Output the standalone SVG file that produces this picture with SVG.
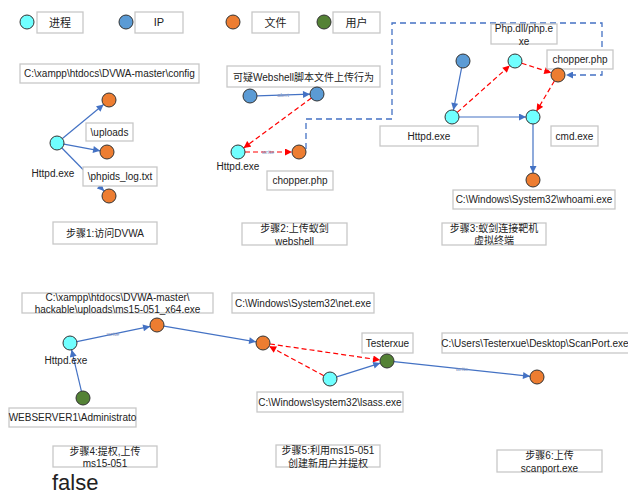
<svg xmlns="http://www.w3.org/2000/svg" width="628" height="494" viewBox="0 0 628 494">
<defs>
<style>
text{font-family:"Liberation Sans","Noto Sans CJK SC",sans-serif;font-size:10px;fill:#222;text-anchor:middle}
.box{fill:#fff;stroke:#c8c8c8;stroke-width:1.3}
.nd{stroke:#333;stroke-width:1}
.proc{fill:#70ffff}
.ip{fill:#5b9bd5}
.file{fill:#ed7d31}
.user{fill:#548235}
.b{stroke:#4472c4;stroke-width:1.2;fill:none}
.r{stroke:#ff0000;stroke-width:1.2;fill:none;stroke-dasharray:5 3}
.bd{stroke:#4472c4;stroke-width:1.3;fill:none;stroke-dasharray:6 4}
.el{font-size:6px;fill:#7a8fbf}
.lg{font-size:11px}
</style>
<marker id="ab" viewBox="0 0 10 10" refX="10" refY="5" markerWidth="8" markerHeight="7" markerUnits="userSpaceOnUse" orient="auto"><path d="M0,0L10,5L0,10z" fill="#4472c4"/></marker>
<marker id="ar" viewBox="0 0 10 10" refX="10" refY="5" markerWidth="8" markerHeight="7" markerUnits="userSpaceOnUse" orient="auto"><path d="M0,0L10,5L0,10z" fill="#ff0000"/></marker>
</defs>
<rect width="628" height="494" fill="#fff"/>

<g id="connectors">
<!-- step1 -->
<line class="b" x1="62.4" y1="138.5" x2="103.6" y2="104.5" marker-end="url(#ab)"/>
<line class="b" x1="63.9" y1="144.2" x2="100.1" y2="150.8" marker-end="url(#ab)"/>
<line class="b" x1="61.9" y1="148" x2="104.1" y2="191" marker-end="url(#ab)"/>
<!-- step2 -->
<line class="b" x1="257" y1="95.8" x2="310" y2="94.2" marker-end="url(#ab)"/>
<text class="el" x="283" y="97">alert</text>
<line class="r" x1="311.4" y1="98.1" x2="243.6" y2="147.9" marker-end="url(#ar)"/>
<line class="r" x1="245" y1="152" x2="292" y2="152" marker-end="url(#ar)"/>
<text class="el" x="268" y="154">write</text>
<path class="bd" d="M306,149V119H392V23H602V75H566" marker-end="url(#ab)"/>
<!-- step3 -->
<line class="b" x1="461.6" y1="67.9" x2="453.4" y2="110.1" marker-end="url(#ab)"/>
<line class="r" x1="457.2" y1="112.4" x2="509.8" y2="65.6" marker-end="url(#ar)"/>
<line class="r" x1="521.7" y1="63.2" x2="551.3" y2="72.8" marker-end="url(#ar)"/>
<line class="r" x1="554.4" y1="81" x2="536.6" y2="111" marker-end="url(#ar)"/>
<line class="b" x1="459" y1="117" x2="526" y2="117" marker-end="url(#ab)"/>
<line class="b" x1="533" y1="124" x2="533" y2="173" marker-end="url(#ab)"/>
<!-- step4 -->
<line class="b" x1="81.4" y1="391.2" x2="71.6" y2="349.8" marker-end="url(#ab)"/>
<line class="b" x1="76.9" y1="341.6" x2="150.1" y2="326.4" marker-end="url(#ab)"/>
<text class="el" x="113" y="335.5">write</text>
<line class="b" x1="163.9" y1="326.2" x2="256.1" y2="341.8" marker-end="url(#ab)"/>
<!-- step5 -->
<line class="r" x1="269.9" y1="344" x2="380.1" y2="360" marker-end="url(#ar)"/>
<line class="r" x1="323.8" y1="375.7" x2="269.2" y2="346.3" marker-end="url(#ar)"/>
<line class="b" x1="336.7" y1="376.9" x2="380.3" y2="363.1" marker-end="url(#ab)"/>
<line class="b" x1="394" y1="361.7" x2="530" y2="376.3" marker-end="url(#ab)"/>
<text class="el" x="462" y="370.5">write</text>
</g>

<g id="legend">
<circle class="nd proc" cx="27" cy="22" r="7"/>
<rect class="box" x="37" y="12" width="46" height="21"/>
<text class="lg" x="60" y="26.5">进程</text>
<circle class="nd ip" cx="126" cy="22" r="7"/>
<rect class="box" x="135" y="12" width="48" height="21"/>
<text class="lg" x="159" y="26">IP</text>
<circle class="nd file" cx="233" cy="22" r="7"/>
<rect class="box" x="252" y="12" width="47" height="21"/>
<text class="lg" x="275.5" y="26.5">文件</text>
<circle class="nd user" cx="324" cy="22" r="7"/>
<rect class="box" x="333" y="12" width="47" height="21"/>
<text class="lg" x="356.5" y="26.5">用户</text>
</g>

<!-- step 1 -->
<g id="s1-config"><rect class="box" x="20" y="64" width="179" height="19"/><text x="109.5" y="77">C:\xampp\htdocs\DVWA-master\config</text><circle class="nd file" cx="109" cy="100" r="7"/></g>
<g id="s1-uploads"><rect class="box" x="86" y="123" width="47" height="18"/><text x="109.5" y="135.5">\uploads</text><circle class="nd file" cx="107" cy="152" r="7"/></g>
<g id="s1-phpids"><rect class="box" x="83" y="167" width="74" height="19"/><text x="120" y="180">\phpids_log.txt</text><circle class="nd file" cx="109" cy="196" r="7"/></g>
<g id="s1-httpd"><circle class="nd proc" cx="57" cy="143" r="7"/><text x="53" y="176.5">Httpd.exe</text></g>
<g id="s1-title"><rect class="box" x="53" y="222" width="104" height="22"/><text x="105" y="237">步骤1:访问DVWA</text></g>

<!-- step 2 -->
<g id="s2-label"><rect class="box" x="227" y="66" width="153" height="21"/><text x="303.5" y="80.5">可疑Webshell脚本文件上传行为</text></g>
<g id="s2-ip1"><circle class="nd ip" cx="250" cy="96" r="7"/></g>
<g id="s2-ip2"><circle class="nd ip" cx="317" cy="94" r="7"/></g>
<g id="s2-httpd"><circle class="nd proc" cx="238" cy="152" r="7"/><text x="238" y="169.5">Httpd.exe</text></g>
<g id="s2-chopper"><circle class="nd file" cx="299" cy="152" r="7"/><rect class="box" x="267" y="171" width="66" height="19"/><text x="300" y="184">chopper.php</text></g>
<g id="s2-title"><rect class="box" x="242" y="223" width="105" height="22"/><text x="294.5" y="232">步骤2:上传蚁剑</text><text x="294.5" y="245">webshell</text></g>

<!-- step 3 -->
<g id="s3-ip"><circle class="nd ip" cx="463" cy="61" r="7"/></g>
<g id="s3-php"><rect class="box" x="491" y="24" width="66" height="20"/><text x="524" y="31.5">Php.dll/php.e</text><text x="524" y="44.5">xe</text><circle class="nd proc" cx="515" cy="61" r="7"/></g>
<g id="s3-chopper"><rect class="box" x="547" y="50" width="66" height="19"/><text x="580" y="63">chopper.php</text><circle class="nd file" cx="558" cy="75" r="7"/></g>
<g id="s3-httpd"><circle class="nd proc" cx="452" cy="117" r="7"/><rect class="box" x="380" y="126" width="98" height="20"/><text x="429" y="139.5">Httpd.exe</text></g>
<g id="s3-cmd"><circle class="nd proc" cx="533" cy="117" r="7"/><rect class="box" x="551" y="126" width="47" height="20"/><text x="574.5" y="139.5">cmd.exe</text></g>
<g id="s3-whoami"><circle class="nd file" cx="533" cy="180" r="7"/><rect class="box" x="453" y="190" width="162" height="19"/><text x="534" y="203">C:\Windows\System32\whoami.exe</text></g>
<g id="s3-title"><rect class="box" x="442" y="223" width="104" height="22"/><text x="494" y="232">步骤3:蚁剑连接靶机</text><text x="494" y="244">虚拟终端</text></g>

<!-- step 4 -->
<g id="s4-file"><rect class="box" x="22" y="293" width="191" height="20"/><text x="117.5" y="300.5">C:\xampp\htdocs\DVWA-master\</text><text x="117.5" y="312.5">hackable\uploads\ms15-051_x64.exe</text><circle class="nd file" cx="157" cy="325" r="7"/></g>
<g id="s4-httpd"><circle class="nd proc" cx="70" cy="343" r="7"/><text x="66" y="363.5">Httpd.exe</text></g>
<g id="s4-user"><circle class="nd user" cx="83" cy="398" r="7"/><rect class="box" x="9" y="408" width="127" height="19"/><text x="72.5" y="421">WEBSERVER1\Administrato</text></g>
<g id="s4-title"><rect class="box" x="53" y="446" width="104" height="21"/><text x="105" y="455">步骤4:提权,上传</text><text x="105" y="467">ms15-051</text></g>

<!-- step 5 -->
<g id="s5-net"><rect class="box" x="232" y="293" width="142" height="20"/><text x="303" y="306.5">C:\Windows\System32\net.exe</text><circle class="nd file" cx="263" cy="343" r="7"/></g>
<g id="s5-user"><rect class="box" x="362" y="333" width="51" height="20"/><text x="387.5" y="346.5">Testerxue</text><circle class="nd user" cx="387" cy="361" r="7"/></g>
<g id="s5-lsass"><circle class="nd proc" cx="330" cy="379" r="7"/><rect class="box" x="257" y="392" width="146" height="20"/><text x="330" y="405.5">C:\Windows\system32\lsass.exe</text></g>
<g id="s5-title"><rect class="box" x="276" y="445" width="104" height="22"/><text x="328" y="454">步骤5:利用ms15-051</text><text x="328" y="467">创建新用户并提权</text></g>

<!-- step 6 -->
<g id="s6-scan"><rect class="box" x="442" y="333" width="187" height="20"/><text x="535" y="346.5">C:\Users\Testerxue\Desktop\ScanPort.exe</text><circle class="nd file" cx="537" cy="377" r="7"/></g>
<g id="s6-title"><rect class="box" x="497" y="450" width="105" height="22"/><text x="549.5" y="459">步骤6:上传</text><text x="549.5" y="472">scanport.exe</text></g>

<text x="52" y="490" style="font-size:22px;text-anchor:start">false</text>
</svg>
